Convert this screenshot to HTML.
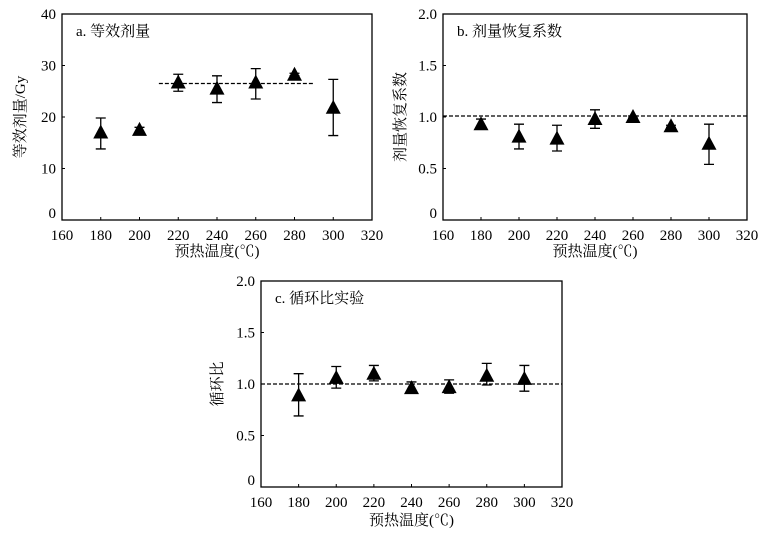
<!DOCTYPE html>
<html><head><meta charset="utf-8"><style>
body{margin:0;background:#fff;}
svg text{font-family:"Liberation Serif","Noto Serif CJK SC","Noto Sans CJK SC",serif;fill:#000;}
</style></head><body>
<svg id="fig" width="773" height="540" viewBox="0 0 773 540" xmlns="http://www.w3.org/2000/svg"></svg>
<script>
const temps=[180,200,220,240,260,280,300];
const xTicks=[160,180,200,220,240,260,280,300,320];
const aVals=[17,17.5,26.7,25.5,26.7,28.2,21.8];
const aLow=[13.8,17,25,22.8,23.5,28,16.4];
const aHigh=[19.8,18,28.3,28,29.4,28.5,27.3];
const aTicks=[0,10,20,30,40];
const aRef=[26.5,210,290];
const bVals=[0.93,0.81,0.79,0.98,1.0,0.91,0.74];
const bLow=[0.89,0.69,0.67,0.89,0.99,0.9,0.54];
const bHigh=[0.98,0.93,0.92,1.07,1.01,0.92,0.93];
const bTicks=[0,0.5,1.0,1.5,2.0];
const bRef=[1.01,160,320];
const cVals=[0.89,1.06,1.1,0.96,0.97,1.08,1.05];
const cLow=[0.69,0.96,1.03,0.93,0.91,0.99,0.93];
const cHigh=[1.1,1.17,1.18,1.02,1.04,1.2,1.18];
const cTicks=[0,0.5,1.0,1.5,2.0];
const cRef=[1.0,160,320];

const NS="http://www.w3.org/2000/svg";
const svg=document.getElementById('fig');
function mk(tag,attrs,parent){const e=document.createElementNS(NS,tag);for(const k in attrs)e.setAttribute(k,attrs[k]);(parent||svg).appendChild(e);return e;}

function panel(key,box,ymax,yTicks,yFmt,vals,low,high,ref,title,ytitle,yTitleX,xTitleY){
  const g=mk('g',{});
  
  
  const X=v=>box.l+(v-160)/(160)*(box.r-box.l);
  const Y=v=>box.b-v/ymax*(box.b-box.t);
  const fr=mk('rect',{x:box.l,y:box.t,width:box.r-box.l,height:box.b-box.t,fill:'none',stroke:'#000','stroke-width':1.3},g);
  
  
  xTicks.forEach(t=>{
    mk('line',{x1:X(t),x2:X(t),y1:box.b,y2:box.b-3,stroke:'#000'},g);
    const tx=mk('text',{x:X(t),y:box.b+20,'font-size':15,'text-anchor':'middle'},g);
    tx.textContent=t;
    
    
  });
  yTicks.forEach(t=>{
    mk('line',{x1:box.l,x2:box.l+3,y1:Y(t),y2:Y(t),stroke:'#000'},g);
    const ty=mk('text',{x:box.l-6,y:Math.min(Y(t)+5,box.b-2),'font-size':15,'text-anchor':'end'},g);
    ty.textContent=yFmt(t);
    
    
  });
  const rl=mk('line',{x1:X(ref[1]),x2:X(ref[2]),y1:Y(ref[0]),y2:Y(ref[0]),stroke:'#000','stroke-width':1.2,'stroke-dasharray':'4,2'},g);
  
  
  temps.forEach((t,i)=>{
    const x=X(t);
    const eb=mk('path',{d:`M${x},${Y(low[i])}V${Y(high[i])}M${x-5},${Y(low[i])}H${x+5}M${x-5},${Y(high[i])}H${x+5}`,stroke:'#000','stroke-width':1.3,fill:'none'},g);
    
    
    const y=Y(vals[i]);
    const tri=mk('polygon',{points:`${x},${y-8} ${x-7.5},${y+6} ${x+7.5},${y+6}`,fill:'#000'},g);
    
    
  });
  const tt=mk('text',{x:box.l+14,y:box.t+22,'font-size':15},g);
  tt.textContent=title;
  
  
  const xt=mk('text',{x:(box.l+box.r)/2,y:xTitleY,'font-size':15,'text-anchor':'middle'},g);
  xt.textContent='预热温度(℃)';
  
  
  const cy=(box.t+box.b)/2;
  const yt=mk('text',{x:yTitleX,y:cy,'font-size':15,'text-anchor':'middle',transform:`rotate(-90 ${yTitleX} ${cy})`},g);
  yt.textContent=ytitle;
  
  
}
panel('a',{l:62,r:372,t:14,b:220},40,aTicks,v=>String(v),aVals,aLow,aHigh,aRef,'a. 等效剂量','等效剂量/Gy',25,256);
panel('b',{l:443,r:747,t:14,b:220},2,bTicks,v=>v===0?'0':v.toFixed(1),bVals,bLow,bHigh,bRef,'b. 剂量恢复系数','剂量恢复系数',405,256);
panel('c',{l:261,r:562,t:281,b:487},2,cTicks,v=>v===0?'0':v.toFixed(1),cVals,cLow,cHigh,cRef,'c. 循环比实验','循环比',222,525);
</script>
</body></html>
